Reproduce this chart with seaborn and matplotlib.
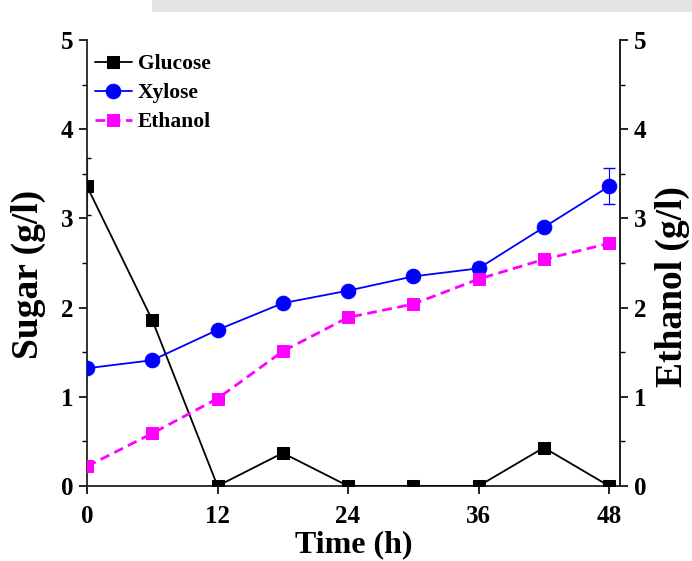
import matplotlib
matplotlib.use("Agg")
import matplotlib.pyplot as plt
import seaborn as sns
import pandas as pd
import numpy as np
from matplotlib.ticker import MultipleLocator
from matplotlib.patches import Rectangle

time_h = [0, 6, 12, 18, 24, 30, 36, 42, 48]
glucose = [3.36, 1.86, 0.0, 0.37, 0.0, 0.0, 0.0, 0.43, 0.0]
glucose_err = [0.32, 0, 0, 0, 0, 0, 0, 0, 0]
xylose = [1.32, 1.41, 1.75, 2.05, 2.19, 2.35, 2.44, 2.90, 3.36]
xylose_err = [0, 0, 0, 0, 0, 0, 0.06, 0, 0.20]
ethanol = [0.22, 0.59, 0.98, 1.51, 1.89, 2.04, 2.32, 2.54, 2.72]
x_ticks = [0, 12, 24, 36, 48]
y_ticks = [0, 1, 2, 3, 4, 5]

sns.set_style("ticks")
plt.rcParams['font.family'] = ['Liberation Serif', 'DejaVu Serif']
plt.rcParams['font.weight'] = 'bold'
plt.rcParams['text.color'] = 'black'
plt.rcParams['axes.labelcolor'] = 'black'
plt.rcParams['xtick.color'] = 'black'
plt.rcParams['ytick.color'] = 'black'

fig = plt.figure(figsize=(6.92, 5.61), dpi=100)
ax = fig.add_axes([87 / 692, 1 - 486 / 561, 533 / 692, 446 / 561])

df = pd.DataFrame({"t": time_h, "Glucose": glucose, "Xylose": xylose, "Ethanol": ethanol})

ax.errorbar(time_h, glucose, yerr=glucose_err, fmt='none', ecolor='black', elinewidth=0.8, capsize=3, zorder=2)
ax.errorbar(time_h, xylose, yerr=xylose_err, fmt='none', ecolor='blue', elinewidth=0.8, capsize=4.5, zorder=2)

sns.lineplot(data=df, x="t", y="Glucose", ax=ax, color='black', marker='s', markersize=9,
             markeredgecolor='black', linewidth=1.3, label='Glucose', zorder=3)
sns.lineplot(data=df, x="t", y="Xylose", ax=ax, color='blue', marker='o', markersize=10.5,
             markeredgecolor='blue', linewidth=1.3, label='Xylose', zorder=3)
sns.lineplot(data=df, x="t", y="Ethanol", ax=ax, color='#ff00ff', marker='s', markersize=8,
             markeredgecolor='#ff00ff', linewidth=2, linestyle=(0, (3.5, 2)), label='Ethanol',
             zorder=3)

ax.set_xlim(0, 49.0)
ax.set_ylim(0, 5)
ax.set_xticks(x_ticks)
ax.set_yticks(y_ticks)
ax.yaxis.set_minor_locator(MultipleLocator(0.5))
ax.tick_params(axis='both', which='major', direction='out', length=6, width=1.2,
               labelsize=18, colors='black', pad=4)
ax.tick_params(axis='x', which='major', pad=7.5)
ax.tick_params(axis='y', which='minor', direction='out', length=3.5, width=1.0)
for lbl in ax.get_xticklabels() + ax.get_yticklabels():
    lbl.set_fontweight('bold')
ax.set_xlabel("Time (h)", fontsize=23, fontweight='bold', labelpad=1.5)
ax.set_ylabel("Sugar (g/l)", fontsize=27, fontweight='bold')
ax.yaxis.set_label_coords(-0.076, 0.475)

for s in ['left', 'bottom', 'right']:
    ax.spines[s].set_linewidth(1.3)
    ax.spines[s].set_color('#222222')
ax.spines['top'].set_visible(False)

ax2 = ax.twinx()
ax2.set_ylim(0, 5)
ax2.set_yticks(y_ticks)
ax2.yaxis.set_minor_locator(MultipleLocator(0.5))
ax2.tick_params(axis='y', which='major', direction='out', length=6, width=1.2, labelsize=18,
                colors='black', pad=4)
ax2.tick_params(axis='y', which='minor', direction='out', length=3.5, width=1.0)
for lbl in ax2.get_yticklabels():
    lbl.set_fontweight('bold')
ax2.set_ylabel("Ethanol (g/l)", fontsize=27, fontweight='bold')
ax2.yaxis.set_label_coords(1.066, 0.448)
for s in ['top', 'left', 'bottom']:
    ax2.spines[s].set_visible(False)
ax2.spines['right'].set_linewidth(1.3)
ax2.spines['right'].set_color('#222222')

leg = ax.legend(loc='upper left', frameon=False, fontsize=15.5, handlelength=1.7,
                handletextpad=0.3, labelspacing=0.42, borderaxespad=0.0, borderpad=0.0,
                bbox_to_anchor=(8 / 533, 1 - 14 / 446))
for t in leg.get_texts():
    t.set_fontweight('bold')

fig.patches.append(Rectangle((0.22, 0.978), 0.78, 0.022, transform=fig.transFigure,
                             facecolor='#e3e3e3', edgecolor='none', zorder=0))

fig.savefig("out.png", dpi=100)
